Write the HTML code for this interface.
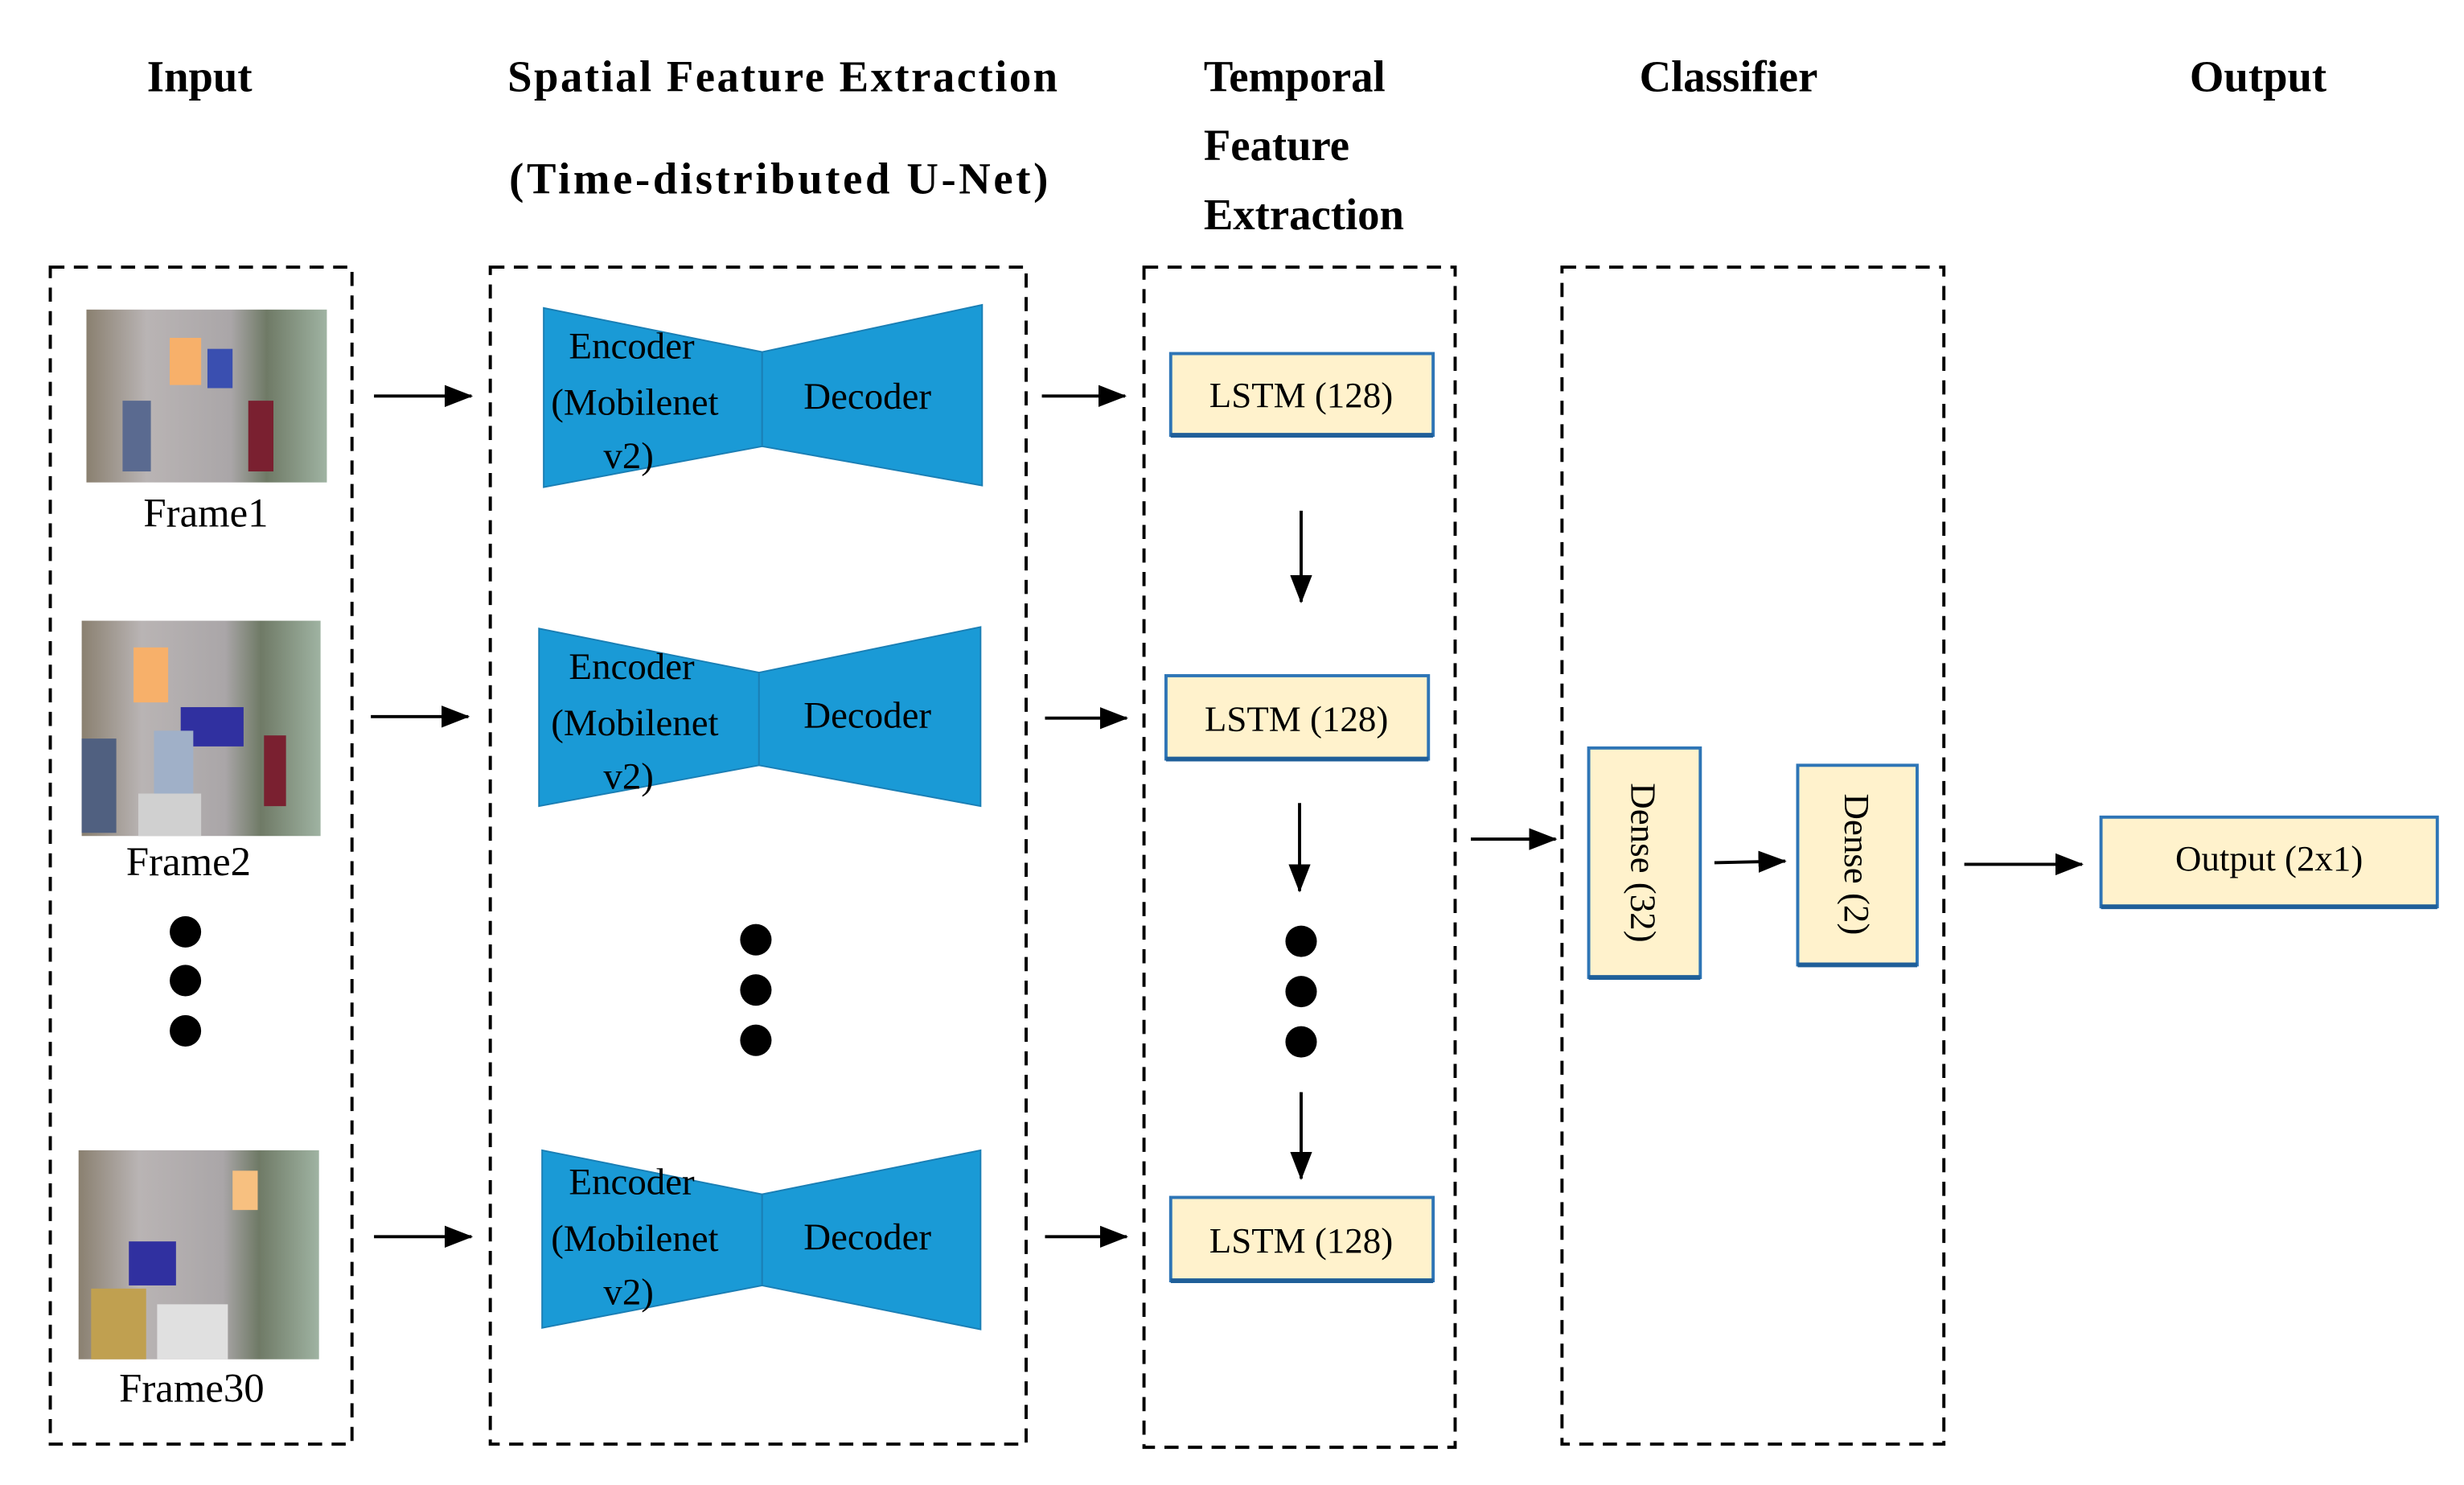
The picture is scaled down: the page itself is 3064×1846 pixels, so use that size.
<!DOCTYPE html>
<html><head><meta charset="utf-8"><style>
html,body{margin:0;padding:0;background:#fff;}
svg{display:block;}
text{font-family:"Liberation Serif",serif;fill:#000;}
.t{font-weight:bold;font-size:28px;}
</style></head><body>
<svg width="3064" height="1846" viewBox="0 0 1568 945" preserveAspectRatio="none" xmlns="http://www.w3.org/2000/svg">
<defs>
<marker id="ah2" markerWidth="18" markerHeight="14" refX="17" refY="7" orient="auto" markerUnits="userSpaceOnUse">
<path d="M0,0 L18,7 L0,14 z" fill="#000"/></marker>
<linearGradient id="ig" x1="0" x2="1" y1="0" y2="0">
<stop offset="0" stop-color="#8a8070"/><stop offset="0.25" stop-color="#b9b4b4"/><stop offset="0.6" stop-color="#aaa6a8"/><stop offset="0.75" stop-color="#6f7a66"/><stop offset="1" stop-color="#9fb3a2"/></linearGradient>
</defs>
<text class="t" x="127" y="58" text-anchor="middle">Input</text>
<text class="t" x="323" y="58" textLength="350" lengthAdjust="spacing">Spatial Feature Extraction</text>
<text class="t" x="324" y="123" textLength="343" lengthAdjust="spacing">(Time-distributed U-Net)</text>
<text class="t" x="766" y="58">Temporal</text>
<text class="t" x="766" y="102">Feature</text>
<text class="t" x="766" y="146">Extraction</text>
<text class="t" x="1100" y="58" text-anchor="middle">Classifier</text>
<text class="t" x="1437" y="58" text-anchor="middle">Output</text>
<g fill="none" stroke="#000" stroke-width="2" stroke-dasharray="9,6">
<rect x="32" y="170" width="192" height="749"/>
<rect x="312" y="170" width="341" height="749"/>
<rect x="728" y="170" width="198" height="751"/>
<rect x="994" y="170" width="243" height="749"/>
</g>
<g>
<rect x="55" y="197" width="153" height="110" fill="url(#ig)"/>
<rect x="108" y="215" width="20" height="30" fill="#f7b06a"/><rect x="132" y="222" width="16" height="25" fill="#3a4fb0"/><rect x="158" y="255" width="16" height="45" fill="#7a2030"/><rect x="78" y="255" width="18" height="45" fill="#5a6a90"/>
<rect x="52" y="395" width="152" height="137" fill="url(#ig)"/>
<rect x="85" y="412" width="22" height="35" fill="#f7b06a"/><rect x="115" y="450" width="40" height="25" fill="#3030a0"/><rect x="98" y="465" width="25" height="45" fill="#a0b0c8"/><rect x="52" y="470" width="22" height="60" fill="#506080"/><rect x="88" y="505" width="40" height="27" fill="#d0d0d0"/><rect x="168" y="468" width="14" height="45" fill="#7a2030"/>
<rect x="50" y="732" width="153" height="133" fill="url(#ig)"/>
<rect x="148" y="745" width="16" height="25" fill="#f7c080"/><rect x="82" y="790" width="30" height="28" fill="#3030a0"/><rect x="58" y="820" width="35" height="45" fill="#c0a050"/><rect x="100" y="830" width="45" height="35" fill="#e0e0e0"/>
</g>
<text x="131" y="335" font-size="26" text-anchor="middle">Frame1</text>
<text x="120" y="557" font-size="26" text-anchor="middle">Frame2</text>
<text x="122" y="892" font-size="26" text-anchor="middle">Frame30</text>
<g fill="#000">
<ellipse cx="118" cy="593" rx="10" ry="10"/><ellipse cx="118" cy="624" rx="10" ry="10"/><ellipse cx="118" cy="656" rx="10" ry="10"/>
<ellipse cx="481" cy="598" rx="10" ry="10"/><ellipse cx="481" cy="630" rx="10" ry="10"/><ellipse cx="481" cy="662" rx="10" ry="10"/>
<ellipse cx="828" cy="599" rx="10" ry="10"/><ellipse cx="828" cy="631" rx="10" ry="10"/><ellipse cx="828" cy="663" rx="10" ry="10"/>
</g>
<g stroke="#000" stroke-width="2" fill="none" marker-end="url(#ah2)">
<line x1="238" y1="252" x2="300" y2="252"/>
<line x1="236" y1="456" x2="298" y2="456"/>
<line x1="238" y1="787" x2="300" y2="787"/>
<line x1="663" y1="252" x2="716" y2="252"/>
<line x1="665" y1="457" x2="717" y2="457"/>
<line x1="665" y1="787" x2="717" y2="787"/>
<line x1="828" y1="325" x2="828" y2="383"/>
<line x1="827" y1="511" x2="827" y2="567"/>
<line x1="828" y1="695" x2="828" y2="750"/>
<line x1="936" y1="534" x2="990" y2="534"/>
<line x1="1091" y1="549" x2="1136" y2="548"/>
<line x1="1250" y1="550" x2="1325" y2="550"/>
</g>
<g fill="#1a9ad6" stroke="#1a7fb5" stroke-width="1">
<polygon points="346,196 485,224 485,284 346,310"/><polygon points="485,224 625,194 625,309 485,284"/>
<polygon points="343,400 483,428 483,487 343,513"/><polygon points="483,428 624,399 624,513 483,487"/>
<polygon points="345,732 485,760 485,818 345,845"/><polygon points="485,760 624,732 624,846 485,818"/>
</g>
<g font-size="24" text-anchor="middle">
<text x="402" y="228">Encoder</text><text x="404" y="264">(Mobilenet</text><text x="400" y="298">v2)</text><text x="552" y="260">Decoder</text>
<text x="402" y="432">Encoder</text><text x="404" y="468">(Mobilenet</text><text x="400" y="502">v2)</text><text x="552" y="463">Decoder</text>
<text x="402" y="760">Encoder</text><text x="404" y="796">(Mobilenet</text><text x="400" y="830">v2)</text><text x="552" y="795">Decoder</text>
</g>
<g fill="#fff2cc" stroke="#2e75b6" stroke-width="2">
<rect x="745" y="225" width="167" height="52"/>
<rect x="742" y="430" width="167" height="53"/>
<rect x="745" y="762" width="167" height="53"/>
<rect x="1011" y="476" width="71" height="146"/>
<rect x="1144" y="487" width="76" height="127"/>
<rect x="1337" y="520" width="214" height="57"/>
</g>
<g stroke="#1f5f99" stroke-width="3">
<line x1="745" y1="277" x2="912" y2="277"/><line x1="742" y1="483" x2="909" y2="483"/><line x1="745" y1="815" x2="912" y2="815"/>
<line x1="1011" y1="622" x2="1082" y2="622"/><line x1="1144" y1="614" x2="1220" y2="614"/><line x1="1337" y1="577" x2="1551" y2="577"/>
</g>
<g font-size="23" text-anchor="middle">
<text x="828" y="259">LSTM (128)</text>
<text x="825" y="465">LSTM (128)</text>
<text x="828" y="797">LSTM (128)</text>
<text x="1444" y="554">Output (2x1)</text>
<text transform="translate(1038,549) rotate(90)">Dense (32)</text>
<text transform="translate(1174,550) rotate(90)">Dense (2)</text>
</g>
</svg>
</body></html>
